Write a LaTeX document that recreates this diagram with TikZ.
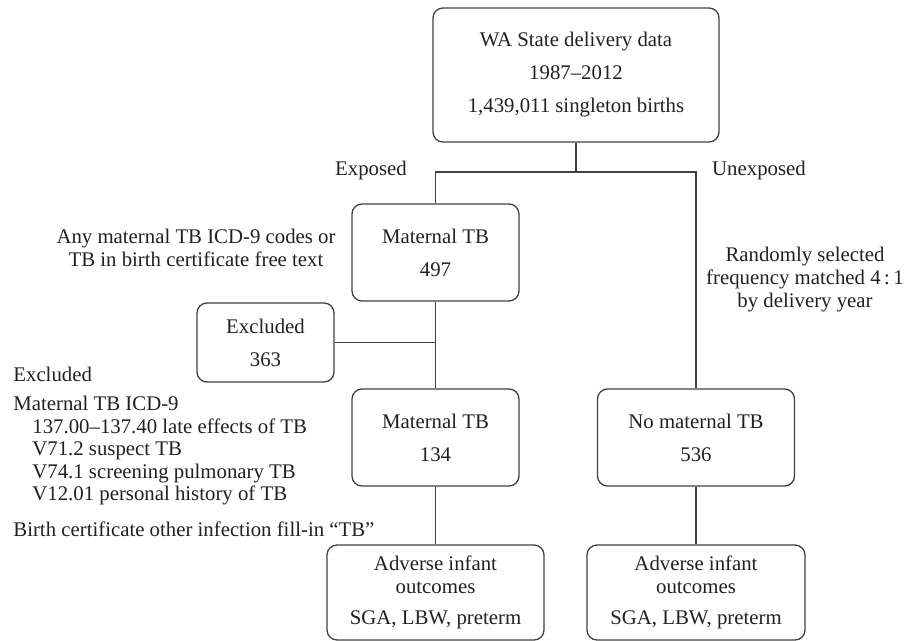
\documentclass[tikz,border=0pt]{standalone}
\usepackage{fontspec}
\setmainfont{Liberation Serif}
\definecolor{ink}{HTML}{231F20}
\definecolor{rule}{HTML}{404040}
\tikzset{
  box/.style={draw=rule, line width=0.65pt, rounded corners=5pt, align=center, inner sep=0pt},
  link/.style={draw=rule, line width=0.65pt},
}

\begin{document}
\begin{tikzpicture}[x=0.5pt, y=-0.5pt, font=\fontsize{10.4}{11.5}\selectfont, text=ink]
      \useasboundingbox (0,0) rectangle (905,641);
      % boxes
      \node [box, minimum width=143pt, minimum height=67pt] (data) at (576,75)
        {WA State delivery data\\[5pt] 1987--2012\\[5pt] 1,439,011 singleton births};
      \node [box, minimum width=83.5pt, minimum height=48.5pt] (mtb1) at (435.5,252.5)
        {Maternal TB\\[5pt] 497};
      \node [box, minimum width=68.5pt, minimum height=39.5pt] (excl) at (265.5,342.5)
        {Excluded\\[5pt] 363};
      \node [box, minimum width=83.5pt, minimum height=48.5pt] (mtb2) at (435.5,437.5)
        {Maternal TB\\[5pt] 134};
      \node [box, minimum width=98.5pt, minimum height=48.5pt] (nomtb) at (696,437.5)
        {No maternal TB\\[5pt] 536};
      \node [box, minimum width=108.5pt, minimum height=47.5pt] (adv1) at (435.5,592.5)
        {Adverse infant\\ outcomes\\[4pt] SGA, LBW, preterm};
      \node [box, minimum width=109pt, minimum height=47.5pt] (adv2) at (696,592.5)
        {Adverse infant\\ outcomes\\[4pt] SGA, LBW, preterm};
      % labels
      \node (exposed) at (371,171) {Exposed};
      \node (unexposed) at (759,171) {Unexposed};
      \node [align=center] (anycode) at (196,247.5)
        {Any maternal TB ICD-9 codes or\\ TB in birth certificate free text};
      \node [align=center] (randsel) at (805,280)
        {Randomly selected\\ frequency matched 4\,:\,1\\ by delivery year};
      \node [anchor=north west, align=left, inner sep=0pt, font=\fontsize{10.4}{11.25}\selectfont] (exclist) at (13,367)
        {Excluded\\[3.25pt]
         Maternal TB ICD-9\\
         \hspace*{9.5pt}137.00--137.40 late effects of TB\\
         \hspace*{9.5pt}V71.2 suspect TB\\
         \hspace*{9.5pt}V74.1 screening pulmonary TB\\
         \hspace*{9.5pt}V12.01 personal history of TB\\[6.75pt]
         Birth certificate other infection fill-in “TB”};
      % connectors
      \coordinate (split) at (576,172);
      \draw [link] (data) -- (split);
      \draw [link] (mtb1.north) -- (mtb1.north |- split) -- (nomtb.north |- split) -- (nomtb.north);
      \draw [link] (mtb1) -- (mtb2);
      \draw [link] (excl) -- (excl -| mtb1);
      \draw [link] (mtb2) -- (adv1);
      \draw [link] (nomtb) -- (adv2);
   \end{tikzpicture}
\end{document}
